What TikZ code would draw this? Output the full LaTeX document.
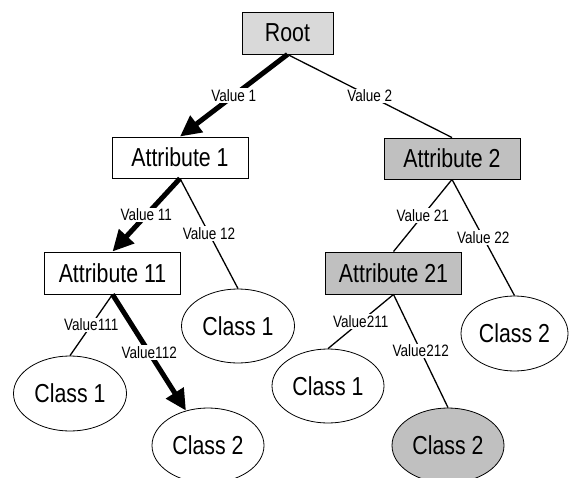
\documentclass[tikz,border=0pt]{standalone}
\usepackage{fontspec}
\setmainfont{Liberation Sans}[FakeStretch=0.82]
\usetikzlibrary{arrows.meta,shapes.geometric}
\definecolor{lightfill}{HTML}{D9D9D9}
\definecolor{darkfill}{HTML}{C0C0C0}
\begin{document}
\begin{tikzpicture}[x=1pt,y=-1pt,
  box/.style={draw=black, line width=0.9pt, rectangle, minimum width=136pt, minimum height=41pt, inner sep=0pt, font=\fontsize{26}{30}\selectfont},
  leaf/.style={draw=black, line width=0.8pt, ellipse, minimum width=112pt, minimum height=74pt, inner sep=0pt, font=\fontsize{26}{30}\selectfont},
  lbl/.style={fill=white, inner sep=1pt, font=\fontsize{16.5}{18}\selectfont, pos=0.5},
  thinedge/.style={line width=1.3pt},
  boldedge/.style={line width=5pt, -{Triangle[length=21pt,width=20pt]}}
]
\useasboundingbox (0,0) rectangle (569,478);
% nodes
\node[box, fill=lightfill, minimum width=91pt, minimum height=42pt] (root) at (287.5,33) {Root};
\node[box] (a1) at (180,157.5) {Attribute 1};
\node[box, fill=darkfill] (a2) at (452,158.5) {Attribute 2};
\node[box, minimum height=42pt] (a11) at (112.5,273) {Attribute 11};
\node[box, fill=darkfill, minimum height=42pt] (a21) at (393.5,273) {Attribute 21};
\node[leaf, minimum width=113pt] (c1m) at (238,326) {Class 1};
\node[leaf, minimum width=107pt, minimum height=75pt] (c2r) at (514.5,333.5) {Class 2};
\node[leaf, minimum width=113pt, minimum height=75pt] (c1l) at (70,393.5) {Class 1};
\node[leaf] (c1r) at (328,386) {Class 1};
\node[leaf, minimum height=75pt] (c2a) at (208,445.5) {Class 2};
\node[leaf, fill=darkfill, minimum height=75pt] (c2g) at (448,445.5) {Class 2};
% connectors
\draw[thinedge] (root.south) -- node[lbl]{Value 2} (a2.north);
\draw[boldedge] (root.south) -- node[lbl]{Value 1} (a1.north);
\draw[boldedge] (a1.south) -- node[lbl]{Value 11} (a11.north);
\draw[thinedge] (a1.south) -- node[lbl]{Value 12} (c1m.north);
\draw[thinedge] (a2.south) -- node[lbl]{Value 21} (a21.north);
\draw[thinedge] (a2.south) -- node[lbl]{Value 22} (c2r.north);
\draw[thinedge] (a11.south) -- node[lbl]{Value111} (c1l.north);
\draw[boldedge] (a11.south) -- node[lbl]{Value112} (c2a);
\draw[thinedge] (a21.south) -- node[lbl]{Value211} (c1r.north);
\draw[thinedge] (a21.south) -- node[lbl]{Value212} (c2g.north);
\end{tikzpicture}
\end{document}
